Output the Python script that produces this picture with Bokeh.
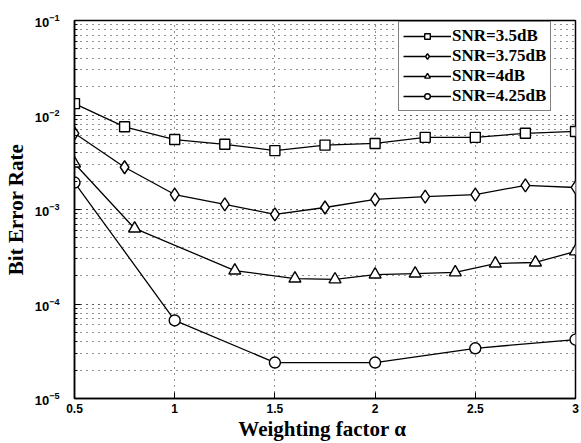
from bokeh.plotting import figure
from bokeh.models import FixedTicker, Legend, LegendItem, LogTicker
from bokeh.embed import file_html
from bokeh.resources import INLINE

# Data
x_35 = [0.5, 0.75, 1.0, 1.25, 1.5, 1.75, 2.0, 2.25, 2.5, 2.75, 3.0]
ber_35 = [1.32e-2, 7.5e-3, 5.5e-3, 4.9e-3, 4.2e-3, 4.8e-3, 5.0e-3, 5.8e-3, 5.8e-3, 6.4e-3, 6.7e-3]

x_375 = [0.5, 0.75, 1.0, 1.25, 1.5, 1.75, 2.0, 2.25, 2.5, 2.75, 3.0]
ber_375 = [6.4e-3, 2.8e-3, 1.44e-3, 1.13e-3, 8.9e-4, 1.05e-3, 1.28e-3, 1.37e-3, 1.44e-3, 1.8e-3, 1.71e-3]

x_4 = [0.5, 0.8, 1.3, 1.6, 1.8, 2.0, 2.2, 2.4, 2.6, 2.8, 3.0]
ber_4 = [3.07e-3, 6.3e-4, 2.26e-4, 1.86e-4, 1.82e-4, 2.05e-4, 2.1e-4, 2.16e-4, 2.68e-4, 2.75e-4, 3.6e-4]

x_425 = [0.5, 1.0, 1.5, 2.0, 2.5, 3.0]
ber_425 = [1.93e-3, 6.7e-5, 2.4e-5, 2.4e-5, 3.4e-5, 4.2e-5]

labels = ["SNR=3.5dB", "SNR=3.75dB", "SNR=4dB", "SNR=4.25dB"]
x_ticks = [0.5, 1.0, 1.5, 2.0, 2.5, 3.0]

p = figure(width=580, height=443, y_axis_type="log",
           x_range=(0.5, 3.0), y_range=(1e-5, 1e-1),
           output_backend="svg", toolbar_location=None,
           min_border_left=72, min_border_right=5,
           min_border_top=20, min_border_bottom=45)

p.outline_line_color = "black"
p.outline_line_width = 1.5
p.background_fill_color = "white"

serif = "Liberation Serif"
sans = "Liberation Sans"

# axes
p.xaxis.ticker = FixedTicker(ticks=x_ticks)
p.xaxis.major_label_overrides = {1: "1", 2: "2", 3: "3"}
p.yaxis.ticker = LogTicker(num_minor_ticks=10)
for ax in (p.xaxis[0], p.yaxis[0]):
    ax.axis_line_color = "black"
    ax.axis_line_width = 1.5
    ax.major_tick_in = 6
    ax.major_tick_out = 0
    ax.minor_tick_in = 3
    ax.minor_tick_out = 0
    ax.major_label_text_font = sans
    ax.major_label_text_font_style = "bold"
    ax.axis_label_text_font = serif
    ax.axis_label_text_font_style = "bold"
    ax.axis_label_text_font_size = "21px"
    ax.major_label_text_color = "black"
    ax.axis_label_text_color = "black"
p.xaxis.minor_tick_line_color = None
p.xaxis.major_label_text_font_size = "12px"
p.yaxis.major_label_text_font_size = "13px"
p.xaxis.major_label_standoff = 5
p.yaxis.major_label_standoff = 15
p.xaxis.axis_label = "Weighting factor  α"
p.yaxis.axis_label = "Bit Error Rate"
p.xaxis.axis_label_standoff = 1
p.yaxis.axis_label_standoff = 4

# grids
p.ygrid.grid_line_color = "#222222"
p.ygrid.grid_line_dash = "1 5"
p.ygrid.grid_line_width = 1.2
p.ygrid.minor_grid_line_color = "#222222"
p.ygrid.minor_grid_line_dash = "1 5"
p.ygrid.minor_grid_line_width = 1.2
p.xgrid.grid_line_color = "#222222"
p.xgrid.grid_line_dash = "1 5"
p.xgrid.grid_line_width = 1.0

series = [(x_35, ber_35, "square"), (x_375, ber_375, "diamond"),
          (x_4, ber_4, "triangle"), (x_425, ber_425, "circle")]
sizes = {"square": 10, "diamond": 13, "triangle": 12, "circle": 11}
items = []
for (xs, ys, mk), lab in zip(series, labels):
    ln = p.line(xs, ys, line_color="black", line_width=1.3)
    sc = p.scatter(xs, ys, marker=mk, size=sizes[mk], fill_color="white",
                   line_color="black", line_width=1.4)
    items.append(LegendItem(label=lab, renderers=[ln, sc]))

legend = Legend(items=items, location=(324, 287))
legend.label_text_font = serif
legend.label_text_font_style = "bold"
legend.label_text_font_size = "17px"
legend.label_text_line_height = 0.85
legend.label_text_color = "black"
legend.border_line_color = "black"
legend.border_line_width = 1.2
legend.background_fill_alpha = 1.0
legend.padding = 4
legend.spacing = 0
legend.margin = 0
legend.glyph_width = 48
legend.glyph_height = 14
legend.label_height = 14
legend.label_standoff = 1
p.add_layout(legend, "center")

open("out.html", "w").write(file_html(p, INLINE))
